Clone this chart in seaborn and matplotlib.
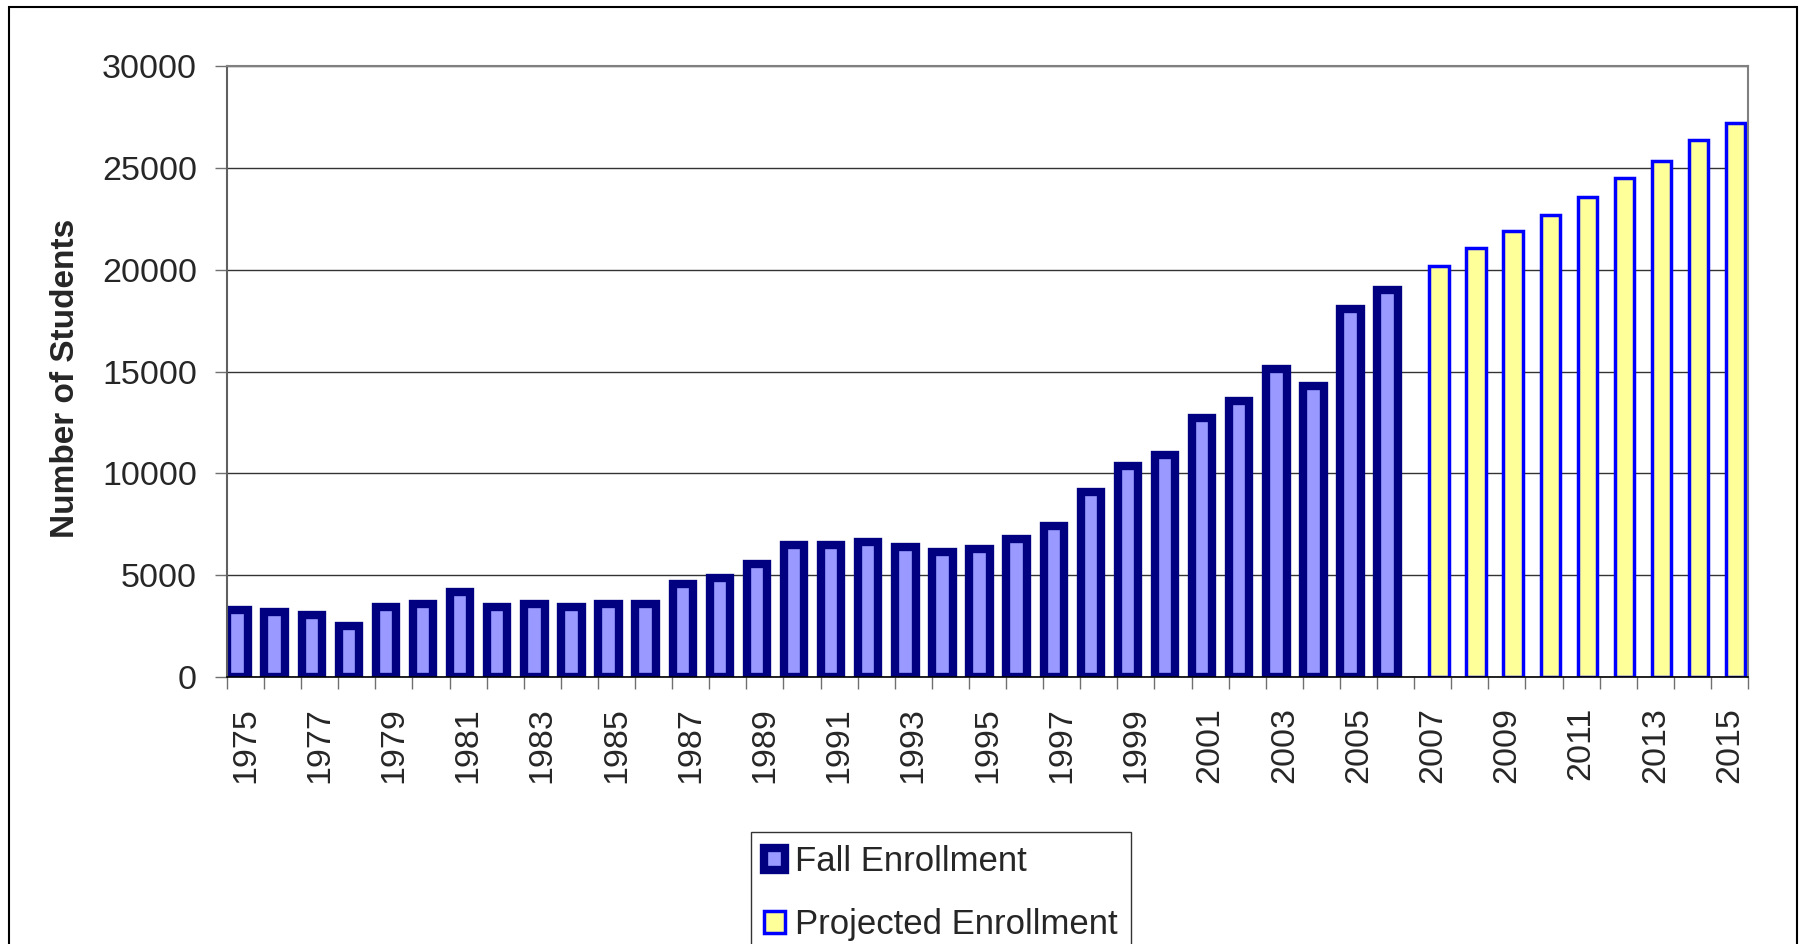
import matplotlib
matplotlib.use("Agg")
from matplotlib import pyplot as plt
from matplotlib.patches import Rectangle
from matplotlib.ticker import FixedLocator
import seaborn as sns
import pandas as pd

# data
years = [str(y) for y in range(1975, 2016)]
fallYears = years[:32]
fallValues = [3300, 3200, 3050, 2500, 3450, 3600, 4150, 3450, 3600, 3450, 3600, 3600,
              4550, 4850, 5550, 6500, 6500, 6650, 6400, 6150, 6300, 6800, 7400, 9100,
              10350, 10900, 12700, 13550, 15100, 14300, 18050, 19000]
projYears = years[32:]
projValues = [20200, 21050, 21900, 22700, 23550, 24500, 25350, 26350, 27200]
seriesNames = ["Fall Enrollment", "Projected Enrollment"]
yTicks = [0, 5000, 10000, 15000, 20000, 25000, 30000]

df = pd.DataFrame({
    "year": fallYears + projYears,
    "students": fallValues + projValues,
    "series": [seriesNames[0]] * len(fallYears) + [seriesNames[1]] * len(projYears),
})

sns.set_theme(style="white")
plt.rcParams["font.family"] = ["Liberation Sans", "DejaVu Sans"]

fig = plt.figure(figsize=(18.04, 9.44), dpi=100)
ax = fig.add_axes([227 / 1804, 1 - 677 / 944, 1521 / 1804, 611 / 944])

sns.barplot(data=df, x="year", y="students", hue="series", order=years,
            hue_order=seriesNames, palette={seriesNames[0]: "#9999FF", seriesNames[1]: "#FFFF99"},
            saturation=1, dodge=True, width=0.8, legend=False, ax=ax)

# restyle the two series like the spreadsheet bars (overlapping clusters)
for rect in ax.containers[0]:
    cx = round(rect.get_x() + rect.get_width() / 2)
    rect.set_width(0.55)
    rect.set_x(cx - 0.215 - 0.275)
    rect.set_edgecolor("#000080")
    rect.set_linewidth(6.0)
for rect in ax.containers[1]:
    cx = round(rect.get_x() + rect.get_width() / 2)
    rect.set_width(0.52)
    rect.set_x(cx + 0.167 - 0.26)
    rect.set_edgecolor("#0000FF")
    rect.set_linewidth(2.5)

ax.set_xlim(-0.5, len(years) - 0.5)
ax.set_ylim(0, 30000)
ax.set_yticks(yTicks)
ax.set_yticklabels([str(t) for t in yTicks], fontsize=24.5)
ax.set_xticks(range(len(years)))
ax.set_xticklabels([y if i % 2 == 0 else "" for i, y in enumerate(years)], rotation=90, fontsize=24.5)
ax.xaxis.set_minor_locator(FixedLocator([i - 0.5 for i in range(len(years) + 1)]))
ax.tick_params(axis="x", which="major", length=0, pad=21.5)
ax.tick_params(axis="x", which="minor", bottom=True, length=8.6, width=1.0, color="#707070")
ax.tick_params(axis="y", which="major", left=True, length=8.6, width=1.0, color="#707070", pad=13)
ax.set_xlabel("")
ax.set_ylabel("Number of Students", fontsize=24, fontweight="bold")
ax.yaxis.label.set_va("center")
ax.yaxis.set_label_coords(-0.1065, 0.489)

ax.yaxis.grid(True, color="#333333", linewidth=1.0)
ax.set_axisbelow(True)
for side in ["top", "right"]:
    ax.spines[side].set_color("#808080")
    ax.spines[side].set_linewidth(1.5)
ax.spines["left"].set_color("#606060")
ax.spines["left"].set_linewidth(1.5)
ax.spines["bottom"].set_color("black")
ax.spines["bottom"].set_linewidth(1.2)

leg = ax.legend(handles=[ax.containers[0], ax.containers[1]], labels=seriesNames,
                loc="upper left", bbox_to_anchor=(750.7 / 1804, 1 - 832.3 / 944),
                bbox_transform=fig.transFigure, borderaxespad=0, fontsize=25,
                handlelength=0.6, handleheight=0.6, handletextpad=0.3,
                borderpad=0.38, labelspacing=0.85, fancybox=False, framealpha=1)
leg.get_frame().set_edgecolor("#333333")
leg.get_frame().set_linewidth(1.0)

# outer chart border
fig.add_artist(Rectangle((9 / 1804, -0.1), (1797 - 9) / 1804, 1.1 - 7 / 944,
                         transform=fig.transFigure, fill=False, edgecolor="black", linewidth=1.5))

plt.savefig("out.png", dpi=100)
